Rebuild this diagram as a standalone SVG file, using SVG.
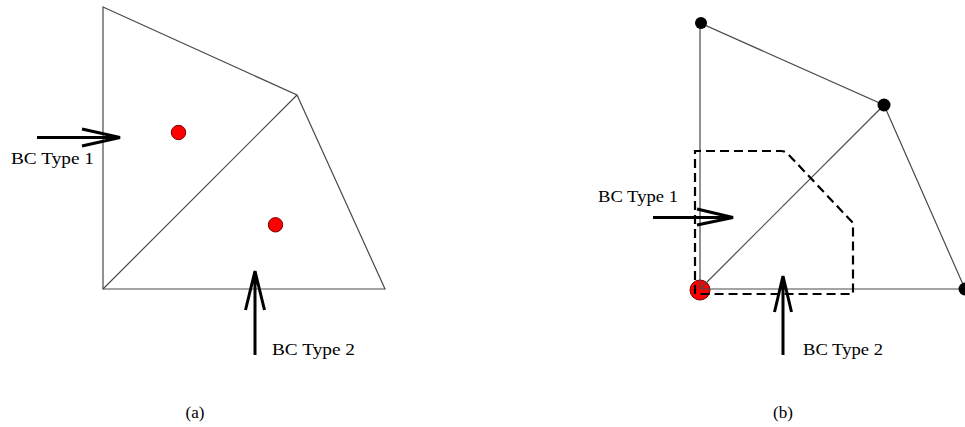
<svg xmlns="http://www.w3.org/2000/svg" width="965" height="427" viewBox="0 0 965 427">
<style>
.edge{stroke:#4a4a4a;stroke-width:1.2;fill:none}
.arrow{stroke:#000;stroke-width:3;fill:none;stroke-linecap:butt;stroke-linejoin:miter}
.dash{stroke:#000;stroke-width:2.2;fill:none;stroke-dasharray:9 5}
.red{fill:#f00;stroke:#700;stroke-width:1}
.blk{fill:#000}
text{font-family:"Liberation Serif","Times New Roman",serif;font-size:17px;fill:#000}
</style>
<rect width="965" height="427" fill="#fff"/>
<g id="panel-a">
  <g id="mesh-a">
    <polygon class="edge" points="103,7 297,95 385,289 103,289"/>
    <line class="edge" x1="103" y1="289" x2="297" y2="95"/>
  </g>
  <g id="red-a1"><circle class="red" cx="178.5" cy="132.5" r="7.2"/></g>
  <g id="red-a2"><circle class="red" cx="275.5" cy="224.8" r="7.2"/></g>
  <g id="bc1-a">
    <path class="arrow" d="M37,137.5 H120 M82,129 L120,137.5 L82,146"/>
    <text x="11" y="164" textLength="83" lengthAdjust="spacingAndGlyphs">BC Type 1</text>
  </g>
  <g id="bc2-a">
    <path class="arrow" d="M255,355 V271 M245.5,310 L255,271 L264.5,310"/>
    <text x="272" y="355" textLength="83" lengthAdjust="spacingAndGlyphs">BC Type 2</text>
  </g>
  <text x="195" y="418" text-anchor="middle">(a)</text>
</g>
<g id="panel-b">
  <g id="red-b"><circle class="red" cx="700" cy="290" r="10"/></g>
  <g id="mesh-b">
    <polyline class="edge" points="700,289 700,23 884,105 965,289"/>
    <line class="edge" x1="700" y1="289" x2="965" y2="289"/>
    <line class="edge" x1="700" y1="289" x2="884" y2="105"/>
  </g>
  <g id="node-b1"><circle class="blk" cx="701" cy="23" r="6"/></g>
  <g id="node-b2"><circle class="blk" cx="884" cy="105" r="6.5"/></g>
  <g id="node-b3"><circle class="blk" cx="965" cy="289" r="6.5"/></g>
  <g id="control-volume">
    <path class="dash" d="M695,294 V151 H781 Q785,151 788,154 L853,223 V294 H700"/>
  </g>
  <g id="bc1-b">
    <path class="arrow" d="M653,217.5 H733 M697,209 L733,217.5 L697,225"/>
    <text x="598" y="202" textLength="80" lengthAdjust="spacingAndGlyphs">BC Type 1</text>
  </g>
  <g id="bc2-b">
    <path class="arrow" d="M783,355 V276 M774.5,312 L783,276 L791.5,312"/>
    <text x="803" y="355" textLength="80" lengthAdjust="spacingAndGlyphs">BC Type 2</text>
  </g>
  <text x="783" y="418" text-anchor="middle">(b)</text>
</g>
</svg>
